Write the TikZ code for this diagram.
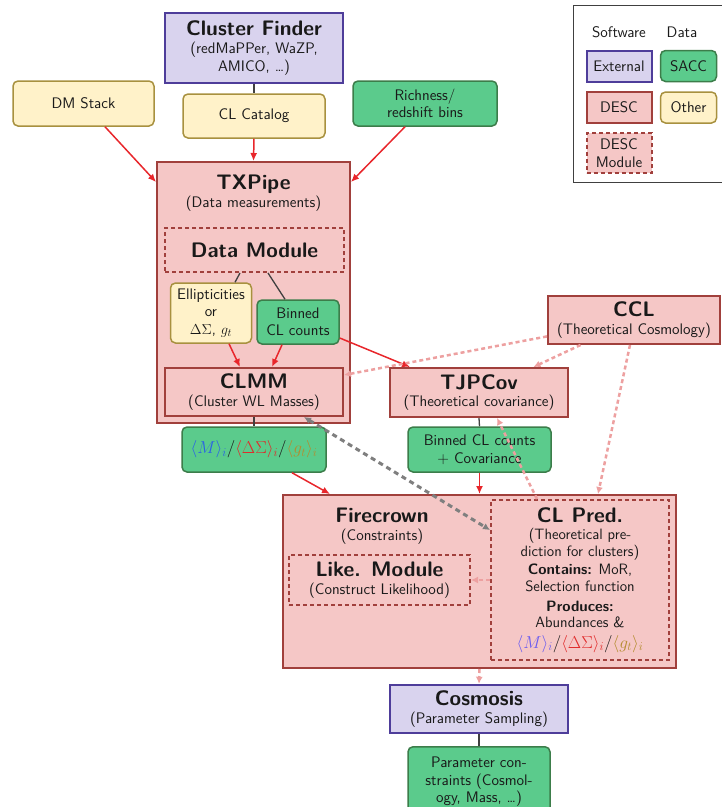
\documentclass[tikz,border=0pt]{standalone}
\usepackage{xcolor}
\usetikzlibrary{arrows.meta}
\definecolor{extfill}{HTML}{D9D3EE}
\definecolor{extdraw}{HTML}{4E3D9A}
\definecolor{descfill}{HTML}{F5C7C6}
\definecolor{descdraw}{HTML}{A1403C}
\definecolor{saccfill}{HTML}{5BCB8C}
\definecolor{saccdraw}{HTML}{3C7D4A}
\definecolor{othfill}{HTML}{FFF2C9}
\definecolor{othdraw}{HTML}{A8913F}
\definecolor{flowred}{HTML}{E8262B}
\definecolor{theopink}{HTML}{EDA0A0}
\definecolor{dashgray}{HTML}{7F7F7F}
\definecolor{massblue}{HTML}{2A62E6}
\definecolor{predblue}{HTML}{6A5CF0}
\definecolor{dsred}{HTML}{E02A2A}
\definecolor{gtolive}{HTML}{B38C2E}
\newcommand{\bodyfont}{\sffamily\fontsize{15.3}{17.5}\selectfont}
\newcommand{\predfont}{\sffamily\fontsize{15}{16.6}\selectfont}
\newcommand{\titfont}{\sffamily\bfseries\fontsize{21}{24}\selectfont}
\newcommand{\boxtitle}[1]{{\titfont #1}}
\newcommand{\mathbig}{\fontsize{17}{18}\selectfont}
\tikzset{
  base/.style={draw, align=center, inner sep=1pt, font=\bodyfont, text=black!90},
  ext/.style={base, fill=extfill, draw=extdraw, line width=2pt},
  desc/.style={base, fill=descfill, draw=descdraw, line width=2pt},
  descmod/.style={base, fill=descfill, draw=descdraw, line width=2pt, dash pattern=on 4pt off 3pt},
  sacc/.style={base, fill=saccfill, draw=saccdraw, line width=1.5pt, rounded corners=5pt},
  other/.style={base, fill=othfill, draw=othdraw, line width=1.5pt, rounded corners=5pt},
  lbl/.style={font=\bodyfont, align=center, inner sep=1pt, text=black!90},
  plain/.style={draw=black!75, line width=1.3pt},
  flow/.style={draw=flowred, line width=1.5pt, -{Latex[length=8pt,width=7pt]}},
  theo/.style={draw=theopink, line width=2.5pt, dash pattern=on 4pt off 3pt, -{Latex[length=7pt,width=7pt]}},
  simdash/.style={draw=dashgray, line width=3pt, dash pattern=on 5pt off 4pt, {Latex[length=7pt,width=7pt]}-{Latex[length=7pt,width=7pt]}},
}
\begin{document}
\begin{tikzpicture}[x=1pt,y=-1pt]
\useasboundingbox (0,0) rectangle (722,807);
% legend
\node[draw=black!75, line width=1.2pt, minimum width=180pt, minimum height=176.7pt, anchor=north west, inner sep=0pt] (legend) at (572.7,5) {};
\node[lbl] (lsw) at (619,32) {Software};
\node[lbl] (ldata) at (682,32) {Data};
\node[ext, minimum width=65pt, minimum height=31pt] (lext) at (619,66) {External};
\node[sacc, minimum width=56pt, minimum height=31pt] (lsacc) at (688.5,66) {SACC};
\node[desc, minimum width=65pt, minimum height=31pt] (ldesc) at (619,107.5) {DESC};
\node[other, minimum width=56pt, minimum height=31pt] (lother) at (688.5,107.5) {Other};
\node[descmod, minimum width=65pt, minimum height=40pt] (ldmod) at (619,153) {DESC\\Module};
% top row
\node[ext, minimum width=178pt, minimum height=70pt] (cf) at (254,48) {\boxtitle{Cluster Finder}\\[1pt](redMaPPer, WaZP,\\AMICO, \ldots)};
\node[other, minimum width=141pt, minimum height=45pt] (dm) at (83.5,103.5) {DM Stack};
\node[other, minimum width=142pt, minimum height=44pt] (clcat) at (254,116) {CL Catalog};
\node[sacc, minimum width=144pt, minimum height=45pt] (rich) at (425,103.5) {Richness/\\redshift bins};
% TXPipe
\node[desc, minimum width=193pt, minimum height=261pt] (tx) at (253.5,292.5) {};
\node[lbl] (txlab) at (253.5,193) {\boxtitle{TXPipe}\\[1pt](Data measurements)};
\node[descmod, minimum width=179pt, minimum height=44pt] (dmod) at (254.5,250) {\boxtitle{Data Module}};
\node[other, minimum width=81pt, minimum height=60pt] (ell) at (211,313) {Ellipticities\\or\\$\Delta\Sigma$, $g_t$};
\node[sacc, minimum width=82pt, minimum height=44pt] (bcl) at (298,322) {Binned\\CL counts};
\node[desc, minimum width=178pt, minimum height=48pt] (clmm) at (254,392) {\boxtitle{CLMM}\\(Cluster WL Masses)};
\node[sacc, minimum width=144pt, minimum height=45pt] (mass) at (254,449.5) {\mathbig$\textcolor{massblue}{\langle M\rangle_i}/\textcolor{dsred}{\langle\Delta\Sigma\rangle_i}/\textcolor{gtolive}{\langle g_t\rangle_i}$};
% CCL, TJPCov
\node[desc, minimum width=172pt, minimum height=48pt] (ccl) at (634,320) {\boxtitle{CCL}\\(Theoretical Cosmology)};
\node[desc, minimum width=178pt, minimum height=49pt] (tjp) at (479,392.5) {\boxtitle{TJPCov}\\(Theoretical covariance)};
\node[sacc, minimum width=143pt, minimum height=45pt] (bcov) at (479.5,449.5) {Binned CL counts\\+ Covariance};
% Firecrown
\node[desc, minimum width=393pt, minimum height=173pt] (fc) at (479.5,581.5) {};
\node[lbl] (fclab) at (382,526) {\boxtitle{Firecrown}\\[1pt](Constraints)};
\node[descmod, font=\predfont, minimum width=178pt, minimum height=160pt] (clp) at (580,580) {\boxtitle{CL Pred.}\\[1pt](Theoretical pre-\\diction for clusters)\\[2pt]\textbf{Contains:} MoR,\\Selection function\\[3pt]\textbf{Produces:}\\Abundances \&\\[4pt]{\mathbig$\textcolor{predblue}{\langle M\rangle_i}/\textcolor{dsred}{\langle\Delta\Sigma\rangle_i}/\textcolor{gtolive}{\langle g_t\rangle_i}$}};
\node[descmod, minimum width=181pt, minimum height=50pt] (like) at (379.5,580) {\boxtitle{Like. Module}\\(Construct Likelihood)};
% bottom
\node[ext, minimum width=178pt, minimum height=48pt] (cos) at (479,708.8) {\boxtitle{Cosmosis}\\(Parameter Sampling)};
\node[sacc, minimum width=142pt, minimum height=70pt, anchor=north] (par) at (479,746) {Parameter con-\\straints (Cosmol-\\ogy, Mass, \ldots)};
% connectors
\draw[plain] (cf.south) -- (clcat.north);
\draw[flow] (clcat.south) -- (tx.north);
\draw[flow] ([xshift=21.5pt]dm.south) -- ([yshift=-21pt]tx.north west);
\draw[flow] ([xshift=-20pt]rich.south) -- ([yshift=-21pt]tx.north east);
\draw[plain] ([xshift=-14.5pt]dmod.south) -- ([xshift=24pt]ell.north);
\draw[plain] ([xshift=13.5pt]dmod.south) -- ([xshift=-13pt]bcl.north);
\draw[flow] ([xshift=18pt]ell.south) -- ([xshift=-14pt]clmm.north);
\draw[flow] ([xshift=-16pt]bcl.south) -- ([xshift=18pt]clmm.north);
\draw[flow] ([yshift=-16pt]bcl.east) -- ([xshift=-69pt]tjp.north);
\draw[plain] (clmm.south) -- (mass.north);
\draw[flow] ([xshift=38pt]mass.south) -- ([xshift=-149.5pt]fc.north);
\draw[plain] (tjp.south) -- (bcov.north);
\draw[flow] (bcov.south) -- (bcov.south |- fc.north);
\draw[theo] (ccl) -- (clmm);
\draw[theo] (ccl) -- (tjp);
\draw[theo] ([xshift=-4pt]ccl.south) -- ([xshift=118.5pt]fc.north);
\draw[theo] ([xshift=-43pt]clp.north) -- ([xshift=18pt]tjp.south);
\draw[theo] (clp.west) -- (like.east);
\draw[theo] (fc.south) -- (cos.north);
\draw[simdash] ([xshift=-40pt]clmm.south east) -- ([yshift=50pt]clp.west);
\draw[plain] (cos.south) -- (par.north);
\end{tikzpicture}
\end{document}
